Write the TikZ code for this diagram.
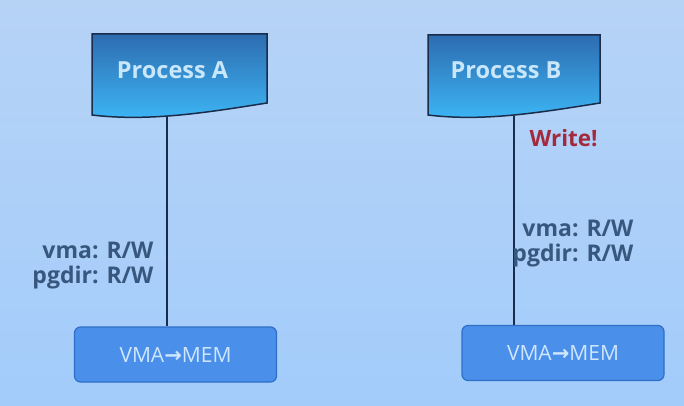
\documentclass[tikz,border=0pt]{standalone}
\usepackage{fontspec}
\setmainfont{Open Sans}
\newfontfamily\arrowfont{DejaVu Sans}
\usepackage{tikz}

\definecolor{bgtop}{HTML}{B6D3F6}
\definecolor{bgbot}{HTML}{A3CCFB}
\definecolor{docdark}{HTML}{2D6CB0}
\definecolor{doclight}{HTML}{3DB8F7}
\definecolor{navy}{HTML}{1B2C4A}
\definecolor{memfill}{HTML}{4A8FE9}
\definecolor{memedge}{HTML}{2E6FC8}
\definecolor{memtext}{HTML}{CFE6FF}
\definecolor{proctext}{HTML}{C9E7FA}
\definecolor{permc}{HTML}{38577E}
\definecolor{writec}{HTML}{A3293B}

\begin{document}
\begin{tikzpicture}[x=1pt,y=1pt,
  doc/.style={top color=docdark,bottom color=doclight,draw=navy,line width=1.5pt},
  proclabel/.style={anchor=base,text=proctext,font=\bfseries\fontsize{23.5}{26}\selectfont},
  membox/.style={draw=memedge,fill=memfill,line width=1.2pt,rounded corners=6pt,
    minimum width=202pt,minimum height=55pt,text=memtext,font=\fontsize{21}{24}\selectfont},
  perm/.style={text=permc,font=\bfseries\fontsize{23}{26}\selectfont},
  link/.style={draw=navy,line width=1.4pt}]
\useasboundingbox (0,0) rectangle (684,405);
\fill[top color=bgtop,bottom color=bgbot] (0,0) rectangle (684,405);

% speicher
\node[membox] (memA) at (175.5,50.5) {VMA{\arrowfont\bfseries\fontsize{21}{24}\selectfont →}MEM};
\node[membox] (memB) at (563,52) {VMA{\arrowfont\bfseries\fontsize{21}{24}\selectfont →}MEM};

\coordinate (footA) at (167,289);
\coordinate (footB) at (514,289.5);
\draw[link] (footA) -- (footA |- memA.north);
\draw[link] (footB) -- (footB |- memB.north);

% prozesse
\draw[doc] (92,371) -- (267,371) -- (267,302) .. controls (210,293) and (150,283) .. (92,290) -- cycle;
\draw[doc] (428,370) -- (600,370) -- (600,302) .. controls (543,293) and (485,283) .. (428,290) -- cycle;
\node[proclabel] (procA) at (172.5,326) {Process A};
\node[proclabel] (procB) at (506,326) {Process B};

% rechte
\node[perm,anchor=base east] (vmaA) at (157,147) {vma: R/W};
\node[perm,anchor=base east] (pgdA) at (157,122) {pgdir: R/W};
\node[perm,anchor=base east] (vmaB) at (637,169) {vma: R/W};
\node[perm,anchor=base east] (pgdB) at (637,144) {pgdir: R/W};
\node[anchor=base west,text=writec,font=\bfseries\fontsize{22.5}{25}\selectfont] (write) at (526,259) {Write!};
\end{tikzpicture}
\end{document}
